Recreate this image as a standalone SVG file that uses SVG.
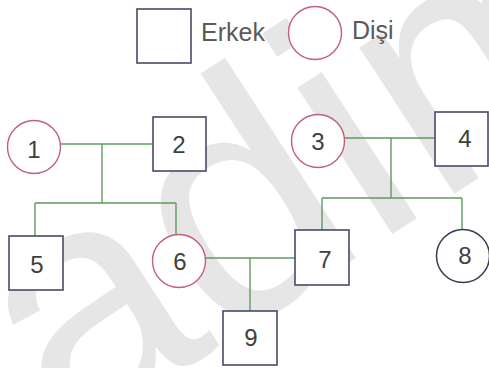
<svg xmlns="http://www.w3.org/2000/svg" width="489" height="368" viewBox="0 0 489 368">
<style>
.m{fill:#fff;stroke:#4a4868;stroke-width:1.6}
.f{fill:#fff;stroke:#c0607a;stroke-width:1.4}
.f8{fill:#fff;stroke:#3a3a4e;stroke-width:1.5}
.t{font-family:"Liberation Sans",Arial,sans-serif;font-size:24px;fill:#404040;text-anchor:middle}
.l{font-family:"Liberation Sans",Arial,sans-serif;font-size:25px;fill:#5a5a5a}
.c{fill:none;stroke:#5e9a5e;stroke-width:1.4}
.wm{font-family:"Liberation Sans",Arial,sans-serif;font-size:330px;fill:#e6e6e6}
</style>
<rect width="489" height="368" fill="#fff"/>
<text class="wm" transform="translate(66,446) rotate(-33)">adim</text>
<g id="legend">
<rect class="m" x="137" y="9" width="54" height="54"/>
<text class="l" x="201" y="41">Erkek</text>
<circle class="f" cx="315" cy="33" r="26.5"/>
<text class="l" x="352" y="39">Dişi</text>
</g>
<g id="connectors">
<path class="c" d="M61,144 H153 M102,144 V203 M35,203 H176 M35,203 V236 M176,203 V234"/>
<path class="c" d="M345,138 H435 M391,138 V198 M322,198 H462 M322,198 V230 M462,198 V229"/>
<path class="c" d="M206,258 H295 M250,258 V311"/>
</g>
<g id="n1"><circle class="f" cx="34" cy="147" r="26.5"/><text class="t" x="34" y="158">1</text></g>
<g id="n2"><rect class="m" x="153" y="117" width="53" height="54"/><text class="t" x="179" y="153">2</text></g>
<g id="n3"><circle class="f" cx="318" cy="141" r="26.5"/><text class="t" x="318" y="150">3</text></g>
<g id="n4"><rect class="m" x="435" y="112" width="53" height="54"/><text class="t" x="465" y="147">4</text></g>
<g id="n5"><rect class="m" x="9" y="236" width="54" height="54"/><text class="t" x="37" y="273">5</text></g>
<g id="n6"><circle class="f" cx="179" cy="261" r="26.5"/><text class="t" x="180" y="270">6</text></g>
<g id="n7"><rect class="m" x="295" y="230" width="54" height="55"/><text class="t" x="325" y="268">7</text></g>
<g id="n8"><circle class="f8" cx="463" cy="256" r="26.5"/><text class="t" x="465" y="264">8</text></g>
<g id="n9"><rect class="m" x="223" y="311" width="54" height="54"/><text class="t" x="251" y="346">9</text></g>
</svg>
